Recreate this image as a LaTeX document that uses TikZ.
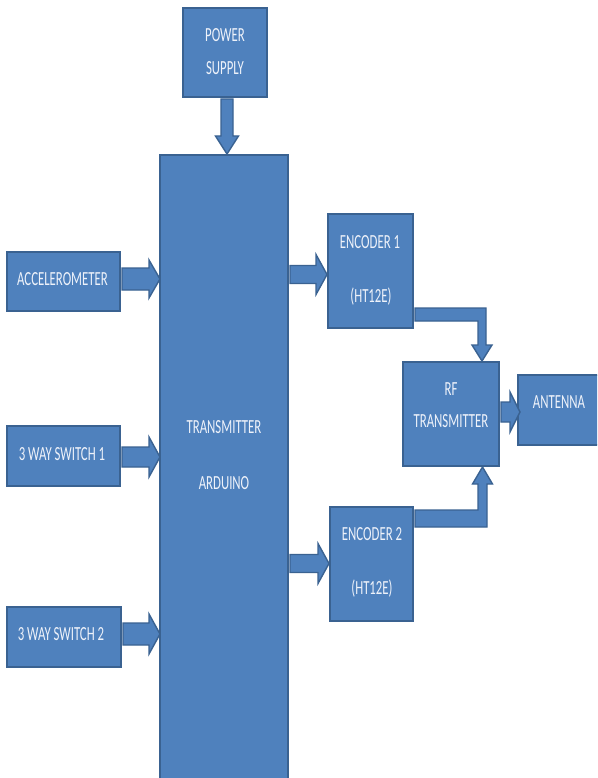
\documentclass[tikz,border=0pt]{standalone}
\usepackage{fontspec}
\setmainfont{Carlito}
\usepackage{graphicx}
\usetikzlibrary{calc}
\definecolor{fillb}{HTML}{4F81BD}
\definecolor{edgeb}{HTML}{3A6291}
\definecolor{txtw}{HTML}{EEF2FA}
\newcommand{\lbl}[1]{\scalebox{0.64}[1]{\fontsize{20}{24}\selectfont #1}}
% right-pointing block arrow: start, tip, half shaft, half head, head length
\newcommand{\rarr}[5]{\draw[barrow] ($(#1)+(0,-#3)$) -- ($(#2)+(-#5,-#3)$) -- ($(#2)+(-#5,-#4)$) -- (#2) -- ($(#2)+(-#5,#4)$) -- ($(#2)+(-#5,#3)$) -- ($(#1)+(0,#3)$) -- cycle;}
% down-pointing block arrow
\newcommand{\darr}[5]{\draw[barrow] ($(#1)+(-#3,0)$) -- ($(#2)+(-#3,-#5)$) -- ($(#2)+(-#4,-#5)$) -- (#2) -- ($(#2)+(#4,-#5)$) -- ($(#2)+(#3,-#5)$) -- ($(#1)+(#3,0)$) -- cycle;}
% bent arrow going right then down: start, tip, half horiz shaft, half vert shaft, half head, head length
\newcommand{\elbdown}[6]{\draw[barrow] ($(#1)+(0,-#3)$) -- ($(#2 |- #1)+(#4,-#3)$) -- ($(#2)+(#4,-#6)$) -- ($(#2)+(#5,-#6)$) -- (#2) -- ($(#2)+(-#5,-#6)$) -- ($(#2)+(-#4,-#6)$) -- ($(#2 |- #1)+(-#4,#3)$) -- ($(#1)+(0,#3)$) -- cycle;}
% bent arrow going right then up
\newcommand{\elbup}[6]{\draw[barrow] ($(#1)+(0,-#3)$) -- ($(#2 |- #1)+(-#4,-#3)$) -- ($(#2)+(-#4,#6)$) -- ($(#2)+(-#5,#6)$) -- (#2) -- ($(#2)+(#5,#6)$) -- ($(#2)+(#4,#6)$) -- ($(#2 |- #1)+(#4,#3)$) -- ($(#1)+(0,#3)$) -- cycle;}
\begin{document}
\begin{tikzpicture}[x=1pt,y=-1pt,
  blk/.style={draw=edgeb,fill=fillb,line width=2pt,inner sep=0pt,anchor=center},
  barrow/.style={draw=edgeb,fill=fillb,line width=1.4pt,line join=miter},
  txt/.style={text=txtw,inner sep=0pt,anchor=base}]
\useasboundingbox (0,0) rectangle (597,778);
\fill[white] (0,0) rectangle (597,778);
\clip (0,0) rectangle (597,778);
% boxes
\node[blk,minimum width=84pt,minimum height=89pt] (ps) at (225,52.5) {};
\node[blk,minimum width=128pt,minimum height=630pt] (ard) at (224,470) {};
\node[blk,minimum width=113pt,minimum height=59pt] (acc) at (63.5,281.5) {};
\node[blk,minimum width=113pt,minimum height=60pt] (sw1) at (63.5,456) {};
\node[blk,minimum width=114pt,minimum height=60pt] (sw2) at (64,637) {};
\node[blk,minimum width=85pt,minimum height=114pt] (enc1) at (370.5,271) {};
\node[blk,minimum width=83pt,minimum height=114pt] (enc2) at (371.5,564) {};
\node[blk,minimum width=96pt,minimum height=104pt] (rf) at (451,414) {};
\node[blk,minimum width=82pt,minimum height=70pt] (ant) at (559,410) {};
% texts
\node[txt] (t1) at (225,42) {\lbl{POWER}};
\node[txt] (t2) at (225,75) {\lbl{SUPPLY}};
\node[txt] (t3) at (224,433) {\lbl{TRANSMITTER}};
\node[txt] (t4) at (224,489) {\lbl{ARDUINO}};
\node[txt] (t5) at (62.5,285) {\lbl{ACCELEROMETER}};
\node[txt] (t6) at (62,460) {\lbl{3 WAY SWITCH 1}};
\node[txt] (t7) at (61,640) {\lbl{3 WAY SWITCH 2}};
\node[txt] (t8) at (370,248) {\lbl{ENCODER 1}};
\node[txt] (t9) at (371,302) {\lbl{(HT12E)}};
\node[txt] (t10) at (372,540) {\lbl{ENCODER 2}};
\node[txt] (t11) at (372,594) {\lbl{(HT12E)}};
\node[txt] (t12) at (451,395) {\lbl{RF}};
\node[txt] (t13) at (451,427) {\lbl{TRANSMITTER}};
\node[txt] (t14) at (559,408) {\lbl{ANTENNA}};
% arrows
\coordinate (p1s) at ([xshift=2pt,yshift=-1pt]ps.south);
\coordinate (p1t) at (p1s |- ard.north);
\darr{p1s}{p1t}{6}{11.5}{18}
\coordinate (a1s) at ([xshift=1pt,yshift=2.5pt]acc.east);
\coordinate (a1t) at ([xshift=1pt]ard.west |- a1s);
\rarr{a1s}{a1t}{11}{19}{11}
\coordinate (a2s) at ([xshift=1pt,yshift=-1pt]sw1.east);
\coordinate (a2t) at ([xshift=1pt]ard.west |- a2s);
\rarr{a2s}{a2t}{10}{20}{11}
\coordinate (a3s) at ([xshift=1pt,yshift=3pt]sw2.east);
\coordinate (a3t) at ([xshift=1pt]ard.west |- a3s);
\rarr{a3s}{a3t}{11}{20}{11}
\coordinate (e1t) at ([yshift=-3.5pt]enc1.west);
\coordinate (e1s) at ([xshift=1pt]ard.east |- e1t);
\rarr{e1s}{e1t}{9}{20}{11}
\coordinate (e2t) at ([yshift=0.5pt]enc2.west);
\coordinate (e2s) at ([xshift=1pt]ard.east |- e2t);
\rarr{e2s}{e2t}{9}{20}{11}
\coordinate (b1s) at ([xshift=1pt,yshift=-43.5pt]enc1.east);
\coordinate (b1t) at ([xshift=31pt]rf.north);
\elbdown{b1s}{b1t}{6.5}{4}{10}{16}
\coordinate (b2s) at ([xshift=1pt,yshift=45.5pt]enc2.east);
\coordinate (b2t) at ([xshift=31.5pt]rf.south);
\elbup{b2s}{b2t}{8.5}{4.5}{10}{17}
\coordinate (r1s) at ([xshift=1pt,yshift=2pt]rf.east);
\coordinate (r1t) at ([xshift=3pt]ant.west |- r1s);
\rarr{r1s}{r1t}{10}{20}{10}
\end{tikzpicture}
\end{document}
